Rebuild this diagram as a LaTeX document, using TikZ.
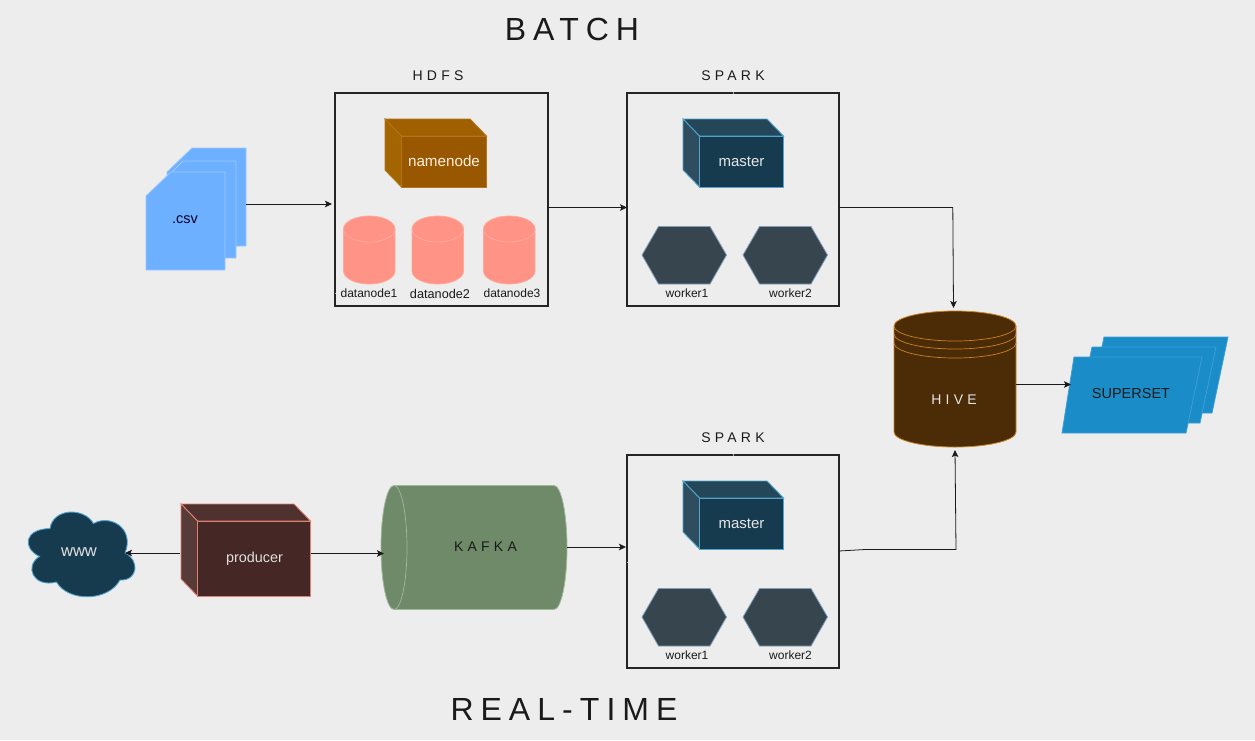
\documentclass[tikz,border=0pt]{standalone}
\usepackage{fontspec}
\setmainfont{Liberation Sans}
\newfontfamily\spcfont[LetterSpace=30]{Liberation Sans}
\newfontfamily\ttlfont[LetterSpace=22]{Liberation Sans}
\usetikzlibrary{arrows.meta,calc}
\definecolor{bgc}{HTML}{EDEDED}
\definecolor{ink}{HTML}{1A1A1A}
\tikzset{
  x=1pt,y=-1pt,
  txt/.style={font=\fontsize{#1}{#1}\selectfont,text=ink,inner sep=0pt,outer sep=0pt},
  spaced/.style={font=\fontsize{14}{16}\selectfont\spcfont,text=ink,inner sep=0pt,outer sep=0pt},
  headline/.style={font=\fontsize{32}{34}\selectfont\ttlfont,text=ink,inner sep=0pt,outer sep=0pt},
  frame/.style={draw=ink!95,line width=1.6pt,inner sep=0pt,outer sep=0pt,minimum width=212pt,minimum height=213pt},
  slot/.style={inner sep=0pt,outer sep=0pt},
  tick/.style={draw=bgc!70!ink,line width=0.8pt},
  conn/.style={draw=ink,line width=0.8pt,-{Stealth[length=7pt,width=6.5pt,inset=1.5pt]}},
  nnface/.style={fill=nnf,draw=nns,line width=0.9pt},
  nntop/.style={fill=nnt,draw=nns,line width=0.9pt},
  nnside/.style={fill=nnl,draw=nns,line width=0.9pt},
  mface/.style={fill=mf,draw=ms,line width=0.9pt},
  mtop/.style={fill=mt,draw=ms,line width=0.9pt},
  mside/.style={fill=ml,draw=ms,line width=0.9pt},
  pface/.style={fill=pf,draw=ps,line width=0.9pt},
  ptop/.style={fill=pt,draw=ps,line width=0.9pt},
  pside/.style={fill=pl,draw=ps,line width=0.9pt},
  hexa/.style={fill=hexf,draw=hexs,line width=0.8pt},
  dn/.style={fill=dnf,draw=dns,line width=0.8pt},
  csvp/.style={fill=csvf,draw=csvs,line width=0.8pt},
  supp/.style={fill=supf,draw=sups,line width=0.8pt},
}
\definecolor{nnf}{HTML}{995700}\definecolor{nnt}{HTML}{A06000}\definecolor{nnl}{HTML}{A36500}\definecolor{nns}{HTML}{B4751A}
\definecolor{mf}{HTML}{173B4E}\definecolor{mt}{HTML}{234759}\definecolor{ml}{HTML}{2E4E60}\definecolor{ms}{HTML}{4FA3CC}
\definecolor{pf}{HTML}{452725}\definecolor{pt}{HTML}{4F312F}\definecolor{pl}{HTML}{573B39}\definecolor{ps}{HTML}{E0806F}
\definecolor{hexf}{HTML}{37454F}\definecolor{hexs}{HTML}{7F9DB8}
\definecolor{dnf}{HTML}{FF9486}\definecolor{dns}{HTML}{FFA99D}
\definecolor{csvf}{HTML}{6DB0FF}\definecolor{csvs}{HTML}{9CC8FF}
\definecolor{supf}{HTML}{1A8CC8}\definecolor{sups}{HTML}{3C9FD8}
\definecolor{hivef}{HTML}{4C2C07}\definecolor{hives}{HTML}{C98225}
\definecolor{kaff}{HTML}{6F8A68}\definecolor{kafs}{HTML}{A2B79C}
\definecolor{wwwf}{HTML}{173B4E}\definecolor{wwws}{HTML}{4FA3CC}
% name, back x, back y, front x1, front y1, depth, style prefix
\newcommand{\cubebox}[7]{%
  \filldraw[#7top] ({#2},{#3}) -- ({#4-#6},{#3}) -- ({#4-0.5},{#3+#6}) -- ({#2+#6-0.5},{#3+#6}) -- cycle;
  \filldraw[#7side] ({#2},{#3}) -- ({#2+#6-0.5},{#3+#6}) -- ({#2+#6-0.5},#5) -- ({#2},{#5-#6}) -- cycle;
  \node[#7face,inner sep=0pt,outer sep=0pt,minimum width={#4-#2-#6},minimum height={#5-#3-#6},anchor=north west] (#1) at ({#2+#6-0.5},{#3+#6}) {};
}
\newcommand{\datacyl}[2]{%
  \filldraw[dn] (#1,229) -- (#1,271) arc[start angle=180,end angle=360,x radius=25.75pt,y radius=13pt] -- ({#1+51.5},229) arc[start angle=0,end angle=180,x radius=25.75pt,y radius=13pt] -- cycle;
  \draw[dns,line width=0.8pt] (#1,229) arc[start angle=180,end angle=360,x radius=25.75pt,y radius=13pt];
  \node[slot,minimum width=51.5pt,minimum height=68pt,anchor=north west] (#2) at (#1,216) {};
}
\newcommand{\hexshape}[1]{%
  \filldraw[hexa] (#1,255) -- ({#1+16.5},226.5) -- ({#1+68},226.5) -- ({#1+84.5},255) -- ({#1+68},284) -- ({#1+16.5},284) -- cycle;
}
\newcommand{\sparkblock}[2]{%
  \begin{scope}[shift={(0,#2)}]
    \node[spaced] (#1title) at (733,76) {SPARK};
    \node[frame,anchor=north west] (#1) at (627,93) {};
    \draw[tick] (733,92.2) -- (733,93.8);
    \cubebox{#1master}{683}{119}{784}{187}{17}{m}
    \node[txt=15,text=white!90!black] (#1mlabel) at (741.5,161.5) {master};
    \hexshape{642}
    \hexshape{743}
    \node[txt=12] (#1w1) at (687,293) {worker1};
    \node[txt=12] (#1w2) at (790.5,293) {worker2};
  \end{scope}
}
\begin{document}
\begin{tikzpicture}
\useasboundingbox (0,0) rectangle (1255,740);
\fill[bgc] (0,0) rectangle (1255,740);

\node[headline] (batch) at (572,29) {BATCH};
\node[headline] (realtime) at (564,709) {REAL-TIME};

% csv stack
\filldraw[csvp] (167,172) -- (192,148) -- (246,148) -- (246,246) -- (170,246) -- cycle;
\filldraw[csvp] (160,184) -- (183,161) -- (236,161) -- (236,258) -- (170,258) -- cycle;
\filldraw[csvp] (146,196) -- (171,172) -- (225,172) -- (225,270) -- (146,270) -- cycle;
\node[txt=14.5,text=black!85!blue] (csvlabel) at (185,220) {.csv};
\node[slot,minimum width=100pt,minimum height=122pt,anchor=north west] (csv) at (146,148) {};

% HDFS
\node[spaced] (hdfstitle) at (438,76) {HDFS};
\node[frame,anchor=north west,minimum width=213pt] (hdfs) at (335,93) {};
\draw[tick] (335,292.5) -- (335,294);
\cubebox{namenode}{385}{119}{487}{187}{17}{nn}
\node[txt=15.2,text=white!88!orange] (nnlabel) at (444,161) {namenode};
\datacyl{343.5}{dn1}
\datacyl{412}{dn2}
\datacyl{483.5}{dn3}
\node[txt=12] (dn1l) at (369,293) {datanode1};
\node[txt=12.7] (dn2l) at (440,294) {datanode2};
\node[txt=12] (dn3l) at (512,293) {datanode3};

% Spark clusters
\sparkblock{sparka}{0}
\sparkblock{sparkb}{362}
\draw[tick] (627,561.5) -- (627,563);

% Hive
\filldraw[fill=hivef,draw=hives,line width=0.8pt] (894,326) -- (894,432) arc[start angle=180,end angle=360,x radius=61pt,y radius=15pt] -- (1016,326) arc[start angle=0,end angle=180,x radius=61pt,y radius=15pt] -- cycle;
\draw[hives,line width=0.7pt] (894,326) arc[start angle=180,end angle=360,x radius=61pt,y radius=15pt];
\draw[hives,line width=0.7pt] (894,334) arc[start angle=180,end angle=360,x radius=61pt,y radius=15pt];
\draw[hives,line width=0.7pt] (894,343) arc[start angle=180,end angle=360,x radius=61pt,y radius=15pt];
\node[slot,minimum width=122pt,minimum height=136pt,anchor=north west] (hive) at (894,311) {};
\node[spaced,text=white!90!black] (hivelabel) at (954,400) {HIVE};

% Superset
\filldraw[supp] (1104,337) -- (1228,337) -- (1212,413) -- (1088,413) -- cycle;
\filldraw[supp] (1092,347) -- (1216,347) -- (1200,423) -- (1076,423) -- cycle;
\filldraw[supp] (1074,357) -- (1202,357) -- (1186,433) -- (1062,433) -- cycle;
\node[slot,minimum width=140pt,minimum height=76pt,anchor=north west] (superset) at (1062,357) {};
\node[txt=14.5] (suplabel) at (1131,393) {SUPERSET};

% Kafka
\filldraw[fill=kaff,draw=kafs,line width=0.8pt] (394,485.5) -- (554,485.5) arc[start angle=90,end angle=-90,x radius=13pt,y radius=62pt] -- (394,609.5) arc[start angle=270,end angle=90,x radius=13pt,y radius=62pt] -- cycle;
\draw[kafs,line width=0.7pt] (394,485.5) arc[start angle=90,end angle=-90,x radius=13pt,y radius=62pt];
\node[slot,minimum width=186pt,minimum height=124pt,anchor=north west] (kafka) at (381,485.5) {};
\node[spaced] (kafkalabel) at (485.5,546.5) {KAFKA};

% Producer
\cubebox{producer}{181}{504}{311}{596}{17}{p}
\node[txt=14.4,text=white!88!black] (prodlabel) at (254.5,558.5) {producer};

% Cloud
\filldraw[fill=wwwf,draw=wwws,line width=0.9pt]
  (39.5,556.5) .. controls (22,548) and (24,529) .. (50,528.5)
  .. controls (53,508) and (84,507) .. (93.5,523.5)
  .. controls (110,514) and (135,528) .. (125,553)
  .. controls (140,560) and (138,581) .. (120,580)
  .. controls (108,602) and (68,602) .. (56.5,582)
  .. controls (33,588) and (24,566) .. (39.5,556.5) -- cycle;
\node[slot,minimum width=108pt,minimum height=83pt,anchor=north west] (www) at (27,513) {};
\node[txt=16.6,text=white!88!black] (wwwlabel) at (79,552.5) {www};

% Connector ports
\coordinate (csvout) at ($(csv.east)+(0,-5)$);
\coordinate (hdfsout) at ($(hdfs.east)+(0,8)$);
\coordinate (aout) at ($(sparka.east)+(0,8)$);
\coordinate (aturn) at (952.8,207.5);
\coordinate (hivein) at ($(hive.north)+(-1.5,-3)$);
\coordinate (hiveout) at ($(hive.east)+(0,5.5)$);
\coordinate (prodr) at ($(producer.east)+(0,-5)$);
\coordinate (prodl) at (180,553);
\coordinate (wwwin) at ($(www.east)+(-10,-1.5)$);
\coordinate (kafkaout) at ($(kafka.east)+(0,-0.5)$);
\coordinate (bout) at ($(sparkb.east)+(0,-10.5)$);
\coordinate (bmid) at (865,549.5);
\coordinate (bturn) at (956,549.5);
\coordinate (hivebelow) at ($(hive.south)+(0,3)$);

\draw[conn,shorten >=3pt] (csvout) -- (csvout -| hdfs.west);
\draw[conn] (hdfsout) -- (hdfsout -| sparka.west);
\draw[conn] (aout) -- (aturn) -- (hivein);
\draw[conn] (hiveout) -- ($(hiveout -| superset.west)+(9,0)$);
\draw[conn] (prodr) -- ($(prodr -| kafka.west)+(3,0)$);
\draw[conn] (prodl) -- (wwwin);
\draw[conn] (kafkaout) -- ($(kafkaout -| sparkb.west)+(-1,0)$);
\draw[conn] (bout) -- (bmid) -- (bturn) -- (hivebelow);
\end{tikzpicture}
\end{document}
